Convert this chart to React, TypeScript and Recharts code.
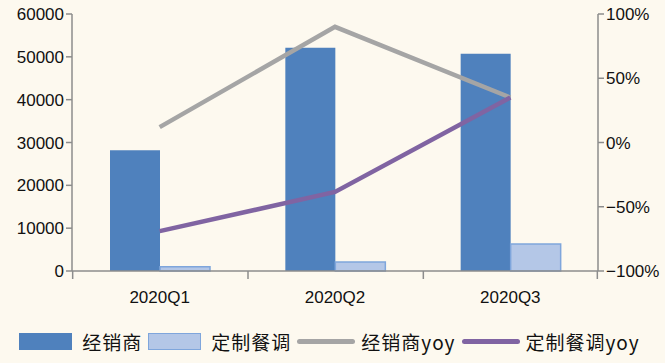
import React from 'react';
import { ComposedChart, Bar, Line, XAxis, YAxis, Legend } from 'recharts';

const quarters = ['2020Q1', '2020Q2', '2020Q3'];
const dealerSales = [28200, 52100, 50700];
const customSales = [1000, 2100, 6300];
const dealerYoy = [0.12, 0.9, 0.35];
const customYoy = [-0.69, -0.385, 0.35];
const leftTicks = [0, 10000, 20000, 30000, 40000, 50000, 60000];
const rightTicks = [-1, -0.5, 0, 0.5, 1];

const data = quarters.map((q, i) => ({
  quarter: q,
  dealer: dealerSales[i],
  custom: customSales[i],
  dealerYoy: dealerYoy[i],
  customYoy: customYoy[i],
}));

const AXIS = '#8c8c8c';
const FONT = '"Liberation Sans", Arial, sans-serif';

const pct = (v: number) => {
  const n = Math.round(v * 100);
  return n < 0 ? `\u2212${Math.abs(n)}%` : `${n}%`;
};

const XTick = (props: any) => {
  const { x, y, payload, index } = props;
  const half = 87;
  return (
    <g>
      <line x1={x - half} y1={y - 8} x2={x - half} y2={y} stroke={AXIS} strokeWidth={1.5} />
      {index === quarters.length - 1 && (
        <line x1={x + half} y1={y - 8} x2={x + half} y2={y} stroke={AXIS} strokeWidth={1.5} />
      )}
      <text x={x} y={y + 24} textAnchor="middle" fill="#111" fontSize={17} fontFamily={FONT}>
        {payload.value}
      </text>
    </g>
  );
};

const LegendContent = () => {
  const items = [
    { label: '经销商', kind: 'bar', color: '#4f81bd', border: '#4f81bd' },
    { label: '定制餐调', kind: 'bar', color: '#b4c7e7', border: '#7fa6dc' },
    { label: '经销商yoy', kind: 'line', color: '#a5a5a5' },
    { label: '定制餐调yoy', kind: 'line', color: '#8064a2' },
  ];
  return (
    <div style={{ display: 'flex', justifyContent: 'center', alignItems: 'center', height: 22, fontFamily: '"Noto Sans CJK SC", sans-serif', fontSize: 19, letterSpacing: 1, color: '#111' }}>
      {items.map((it) => (
        <div key={it.label} style={{ display: 'flex', alignItems: 'center', marginRight: 6 }}>
          {it.kind === 'bar' ? (
            <span style={{ display: 'inline-block', width: 51, height: 15, background: it.color, border: `1.5px solid ${it.border}`, marginRight: 10 }} />
          ) : (
            <span style={{ display: 'inline-block', width: 58, height: 5, background: it.color, borderRadius: 2.5, marginRight: 6 }} />
          )}
          <span>{it.label}</span>
        </div>
      ))}
    </div>
  );
};

export default function App() {
  return (
    <div style={{ position: 'absolute', left: 0, top: 0, width: 665, height: 363, background: '#fdf9ef' }}>
      <ComposedChart
        width={665}
        height={363}
        data={data}
        margin={{ top: 14, right: 0, bottom: 11, left: 0 }}
        barGap={0}
      >
        <XAxis
          dataKey="quarter"
          axisLine={{ stroke: AXIS, strokeWidth: 1.5 }}
          tickLine={false}
          tick={<XTick />}
          height={59}
          interval={0}
        />
        <YAxis
          yAxisId="left"
          orientation="left"
          domain={[0, 60000]}
          ticks={leftTicks}
          width={72}
          axisLine={{ stroke: AXIS, strokeWidth: 1.5 }}
          tickLine={{ stroke: AXIS, strokeWidth: 1.5 }}
          tickSize={6}
          tick={{ fill: '#111', fontSize: 17, fontFamily: FONT }}
          interval={0}
        />
        <YAxis
          yAxisId="right"
          orientation="right"
          domain={[-1, 1]}
          ticks={rightTicks}
          tickFormatter={pct}
          width={67}
          axisLine={{ stroke: AXIS, strokeWidth: 1.5 }}
          tickLine={{ stroke: AXIS, strokeWidth: 1.5 }}
          tickSize={6}
          tick={{ fill: '#111', fontSize: 17, fontFamily: FONT }}
          interval={0}
        />
        <Bar yAxisId="left" dataKey="dealer" name="经销商" fill="#4f81bd" barSize={50} isAnimationActive={false} />
        <Bar yAxisId="left" dataKey="custom" name="定制餐调" fill="#b4c7e7" stroke="#7fa6dc" strokeWidth={1.5} barSize={50} isAnimationActive={false} />
        <Line yAxisId="right" dataKey="dealerYoy" name="经销商yoy" stroke="#a5a5a5" strokeWidth={4.5} dot={false} isAnimationActive={false} />
        <Line yAxisId="right" dataKey="customYoy" name="定制餐调yoy" stroke="#8064a2" strokeWidth={4.5} dot={false} isAnimationActive={false} />
        <Legend verticalAlign="bottom" height={22} content={<LegendContent />} />
      </ComposedChart>
    </div>
  );
}
